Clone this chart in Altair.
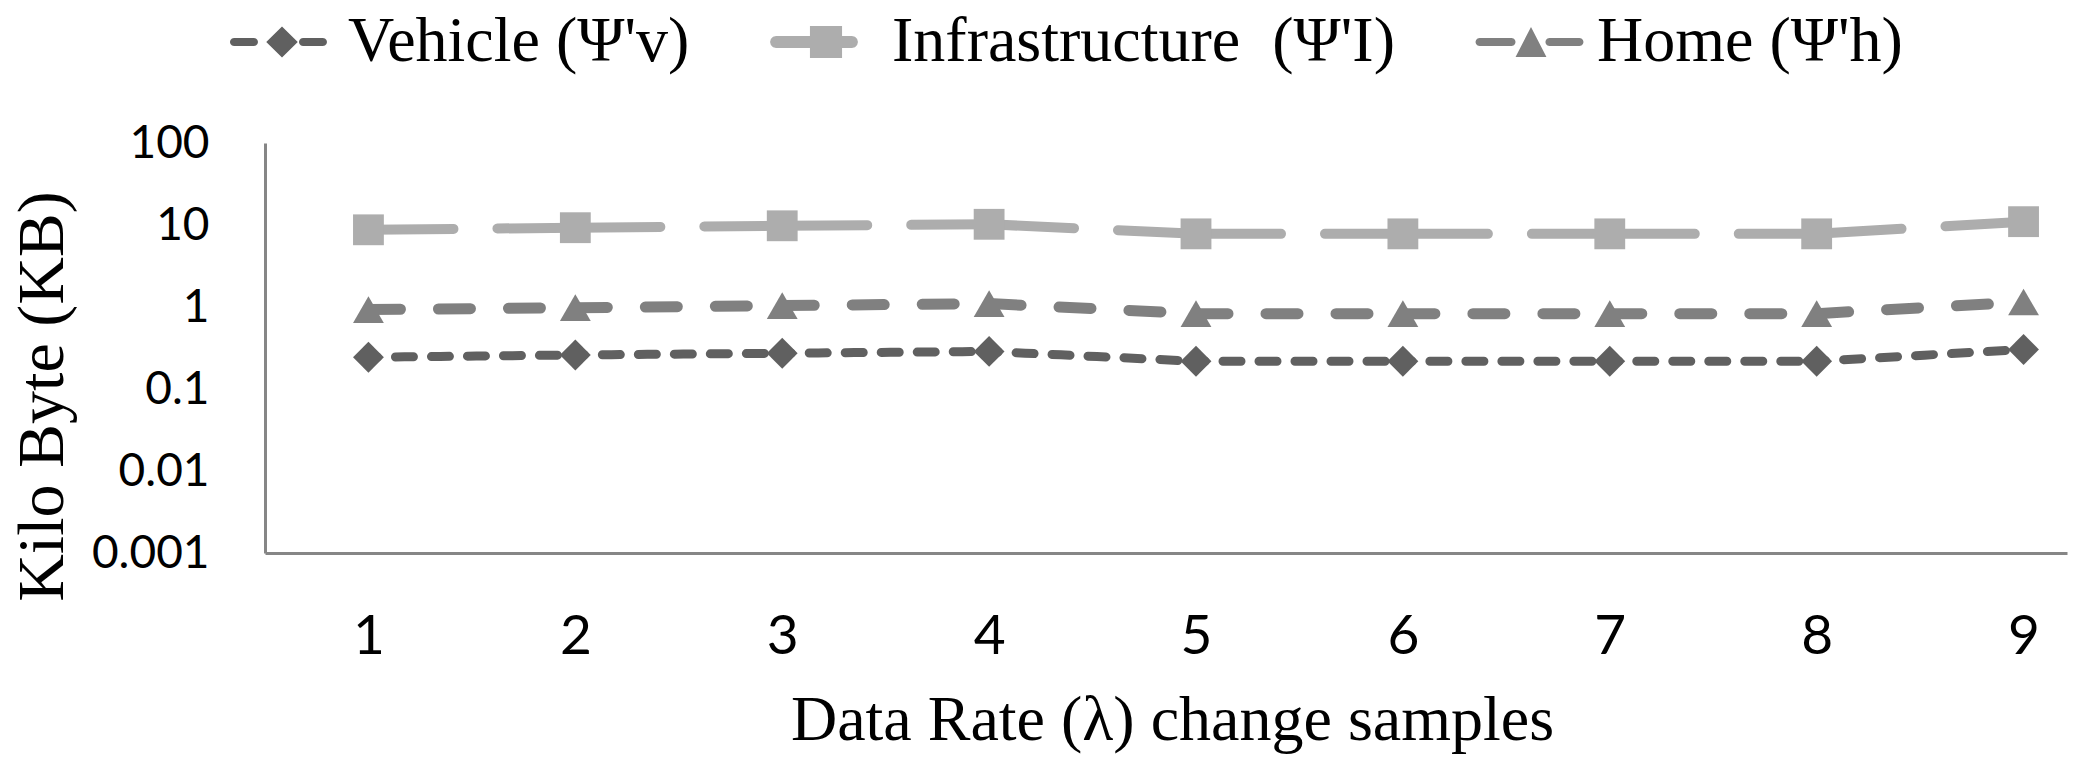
import math
import altair as alt
import pandas as pd

# ---------------- data ----------------
samples = [1, 2, 3, 4, 5, 6, 7, 8, 9]
series_names = ["Vehicle (Ψ'v)", "Infrastructure\u00a0 (Ψ'I)", "Home (Ψ'h)"]
vehicle = [0.244, 0.260, 0.273, 0.287, 0.218, 0.218, 0.218, 0.218, 0.303]
infrastructure = [8.74, 9.27, 9.78, 10.2, 7.8, 7.8, 7.8, 7.8, 10.98]
home = [0.93, 0.98, 1.04, 1.10, 0.83, 0.83, 0.83, 0.83, 1.15]
y_ticks = [0.001, 0.01, 0.1, 1, 10, 100]

series_values = {
    series_names[0]: vehicle,
    series_names[1]: infrastructure,
    series_names[2]: home,
}

rows, seg_rows = [], []
for name in series_names:
    vals = series_values[name]
    for x, v in zip(samples, vals):
        rows.append({"sample": x, "kb": v, "series": name})
    for i in range(len(samples) - 1):
        for j in (i, i + 1):
            seg_rows.append({"sample": samples[j], "kb": vals[j], "series": name, "seg": i})

points_df = pd.DataFrame(rows)
segs_df = pd.DataFrame(seg_rows)

# ---------------- styles ----------------
colors = ["#606060", "#adadad", "#808080"]
dashes = [[9, 18, 9, 0], [85, 44], [32, 38]]
widths = [9, 11, 8.5]
shapes = ["diamond", "square", "triangle-up"]


def f(v):
    return f"{v:.3f}".rstrip("0").rstrip(".")


def stadium(x0, x1, t, n=6):
    pts = [(x0, -t), (x1, -t)]
    for k in range(1, n):
        a = -math.pi / 2 + math.pi * k / n
        pts.append((x1 + t * math.cos(a), t * math.sin(a)))
    pts += [(x1, t), (x0, t)]
    for k in range(1, n):
        a = math.pi / 2 + math.pi * k / n
        pts.append((x0 + t * math.cos(a), t * math.sin(a)))
    return "M" + "L".join(f"{f(px)},{f(py)}" for px, py in pts) + "Z"


def poly(pts):
    return "M" + "L".join(f"{f(px)},{f(py)}" for px, py in pts) + "Z"


legend_paths = [
    stadium(-3.2, -1.87, 0.27) + stadium(1.4, 2.73, 0.27)
    + poly([(-1.05, 0), (0, -1.03), (1.05, 0), (0, 1.03)]),
    stadium(-3.33, 1.73, 0.4)
    + poly([(-1.07, -1.07), (1.07, -1.07), (1.07, 1.07), (-1.07, 1.07)]),
    stadium(-3.43, -1.3, 0.27) + stadium(1.23, 3.23, 0.27)
    + poly([(-1.03, 1), (0, -1), (1.03, 1)]),
]

x_enc = alt.X(
    "sample:Q",
    scale=alt.Scale(domain=[0.5, 9.21], nice=False, zero=False),
    axis=alt.Axis(
        values=samples, format="d", title="Data Rate (λ) change samples",
        labelFont="Lato", labelFontSize=55, labelColor="black",
        labelBaseline="alphabetic", labelPadding=100, ticks=False, tickSize=0,
        grid=False, domainColor="#868686", domainWidth=3,
        titleFont="Liberation Serif", titleFontSize=64, titleFontWeight="normal",
        titleColor="black", titleBaseline="alphabetic", titleAlign="center",
        titleX=907, titleY=186,
    ),
)
y_enc = alt.Y(
    "kb:Q",
    scale=alt.Scale(type="log", domain=[0.001, 100], nice=False),
    axis=alt.Axis(
        values=y_ticks, format="~g", title="Kilo Byte (KB)",
        labelFont="Lato", labelFontSize=46, labelColor="black",
        labelPadding=56, ticks=False, tickSize=0, grid=False,
        domainColor="#868686", domainWidth=3,
        titleFont="Liberation Serif", titleFontSize=66, titleFontWeight="normal",
        titleColor="black", titleAngle=270, titleBaseline="alphabetic",
        titleAlign="center", titleX=-203, titleY=253,
    ),
)

color_scale = alt.Scale(domain=series_names, range=colors)

lines = alt.Chart(segs_df).mark_line(strokeCap="round", strokeJoin="round").encode(
    x=x_enc,
    y=y_enc,
    color=alt.Color("series:N", scale=color_scale, legend=None),
    strokeDash=alt.StrokeDash("series:N", scale=alt.Scale(domain=series_names, range=dashes), legend=None),
    strokeWidth=alt.StrokeWidth("series:N", scale=alt.Scale(domain=series_names, range=widths), legend=None),
    detail="seg:N",
)

points = alt.Chart(points_df).mark_point(filled=True, opacity=1, size=950).encode(
    x=x_enc,
    y=y_enc,
    color=alt.Color("series:N", scale=color_scale, legend=None),
    shape=alt.Shape("series:N", scale=alt.Scale(domain=series_names, range=shapes), legend=None),
)

legend = alt.Legend(
    orient="none", legendX=-15, legendY=-133, direction="horizontal", title=None,
    labelFont="Liberation Serif", labelFontSize=64, labelColor="black",
    labelLimit=2000, symbolSize=900, symbolOpacity=1, symbolStrokeWidth=0,
    labelOffset=34, columnPadding=80, padding=0,
)

legend_layer = alt.Chart(points_df).mark_point(filled=True, opacity=0, size=10).encode(
    x=x_enc,
    y=y_enc,
    color=alt.Color("series:N", scale=color_scale, legend=legend),
    shape=alt.Shape("series:N", scale=alt.Scale(domain=series_names, range=legend_paths), legend=legend),
)

chart = (
    alt.layer(lines, points, legend_layer)
    .resolve_scale(color="independent", shape="independent",
                   strokeDash="independent", strokeWidth="independent")
    .properties(
        width=1802, height=410,
        padding={"left": 257, "top": 135, "right": 6, "bottom": 214},
        autosize=alt.AutoSizeParams(type="none"),
        background="white",
    )
    .configure_view(stroke=None)
)

chart.save("out.html", embed_options={"renderer": "svg", "actions": False})
